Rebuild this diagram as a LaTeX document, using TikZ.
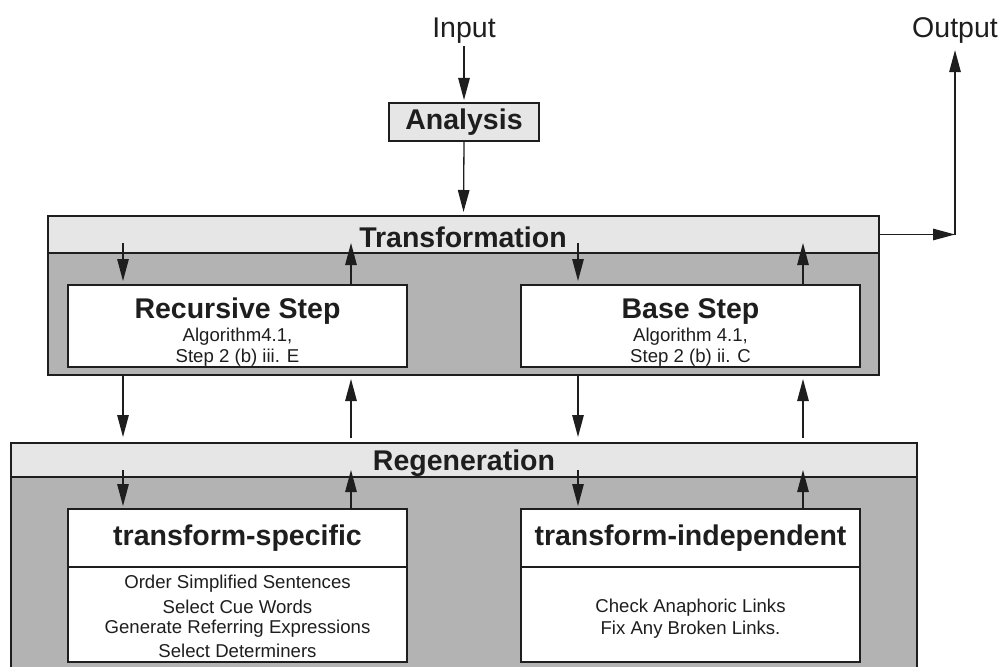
\documentclass[tikz,border=0pt]{standalone}
\usepackage{fontspec}
\setmainfont{Liberation Sans}
\usetikzlibrary{arrows.meta,calc}
\definecolor{ink}{HTML}{1E1E1E}
\definecolor{hdrfill}{HTML}{E6E6E6}
\definecolor{bodyfill}{HTML}{B3B3B3}
\tikzset{
  box/.style={draw=ink, line width=1.5pt, inner sep=0pt, outer sep=0pt},
  hdr/.style={box, fill=hdrfill},
  panel/.style={box, fill=bodyfill},
  card/.style={box, fill=white},
  big/.style={font=\fontsize{28.5}{34}\selectfont\bfseries, text=ink, anchor=base, inner sep=0pt},
  plain/.style={font=\fontsize{28.5}{34}\selectfont, text=ink, anchor=base, inner sep=0pt},
  small/.style={font=\fontsize{18.6}{22}\selectfont, text=ink, anchor=base, inner sep=0pt},
  arr/.style={draw=ink, line width=1.3pt, -{Triangle[length=22pt,width=11.5pt]}},
}
\begin{document}
\begin{tikzpicture}[x=1pt,y=-1pt]
\useasboundingbox (0,0) rectangle (1003,666);
\clip (0,0) rectangle (1003,666);

% columns of the vertical connectors
\coordinate (c1) at (123,0);
\coordinate (c2) at (351,0);
\coordinate (c3) at (578,0);
\coordinate (c4) at (803,0);

% input / analysis
\node[plain] (inp) at (464,38) {Input};
\node[hdr, minimum width=150pt, minimum height=38pt] (ana) at (464,122) {};
\node[big] (anat) at (464,129) {Analysis};

% transformation stage
\node[panel, minimum width=831pt, minimum height=159pt] (tr) at (463.5,295.5) {};
\node[hdr, minimum width=831pt, minimum height=37pt] (trh) at (463.5,234.5) {};
\node[big] (trt) at (463,247) {Transformation};

\node[card, minimum width=339pt, minimum height=82pt] (rec) at (237.5,326) {};
\node[big] (rect) at (237.5,318) {Recursive Step};
\node[small] (rec1) at (237.5,341) {Algorithm4.1,};
\node[small] (rec2) at (237.5,362) {Step 2 (b) iii. E};

\node[card, minimum width=339pt, minimum height=82pt] (bas) at (690.5,326) {};
\node[big] (bast) at (690.5,318) {Base Step};
\node[small] (bas1) at (690.5,341) {Algorithm 4.1,};
\node[small] (bas2) at (690.5,362) {Step 2 (b) ii. C};

% output
\node[plain] (out) at (955,38) {Output};
\coordinate (oc) at (955,234.5);

% regeneration stage
\node[panel, minimum width=906pt, minimum height=260pt] (rg) at (464,573) {};
\node[hdr, minimum width=906pt, minimum height=34pt] (rgh) at (464,460) {};
\node[big] (rgt) at (464,470) {Regeneration};

\node[card, minimum width=339pt, minimum height=58pt] (tsh) at (237.5,538) {};
\node[card, minimum width=339pt, minimum height=95pt] (tsb) at (237.5,614.5) {};
\node[big] (tst) at (237.5,545) {transform-specific};
\node[small] (ts1) at (237.5,588) {Order Simplified Sentences};
\node[small] (ts2) at (237.5,613) {Select Cue Words};
\node[small] (ts3) at (237.5,633) {Generate Referring Expressions};
\node[small] (ts4) at (237.5,657) {Select Determiners};

\node[card, minimum width=339pt, minimum height=58pt] (tih) at (690.5,538) {};
\node[card, minimum width=339pt, minimum height=95pt] (tib) at (690.5,614.5) {};
\node[big] (tit) at (690.5,545) {transform-independent};
\node[small] (ti1) at (690.5,612) {Check Anaphoric Links};
\node[small] (ti2) at (690.5,634) {Fix Any Broken Links.};

% main flow
\draw[arr, shorten <=2pt, shorten >=3pt] (inp.south) -- (ana.north);
\draw[arr, shorten >=4pt] (ana.south) -- (trh.north);
\draw[arr] (trh.east) -- (oc);
\draw[arr] (oc) -- ($(out.south)+(0,6)$);

% transformation <-> steps
\draw[arr] ($(c1|-trh.south)+(0,-10)$) -- ($(c1|-rec.north)+(0,-4)$);
\draw[arr] (c2|-rec.north) -- ($(c2|-trh.south)+(0,-10)$);
\draw[arr] ($(c3|-trh.south)+(0,-10)$) -- ($(c3|-bas.north)+(0,-4)$);
\draw[arr] (c4|-bas.north) -- ($(c4|-trh.south)+(0,-10)$);

% transformation <-> regeneration
\draw[arr] (c1|-tr.south) -- ($(c1|-rg.north)+(0,-6)$);
\draw[arr] ($(c2|-rg.north)+(0,-5)$) -- ($(c2|-tr.south)+(0,4)$);
\draw[arr] (c3|-tr.south) -- ($(c3|-rg.north)+(0,-6)$);
\draw[arr] ($(c4|-rg.north)+(0,-5)$) -- ($(c4|-tr.south)+(0,4)$);

% regeneration <-> sub-tasks
\draw[arr] ($(c1|-rgh.south)+(0,-7)$) -- ($(c1|-tsh.north)+(0,-3)$);
\draw[arr] (c2|-tsh.north) -- ($(c2|-rgh.south)+(0,-7)$);
\draw[arr] ($(c3|-rgh.south)+(0,-7)$) -- ($(c3|-tih.north)+(0,-3)$);
\draw[arr] (c4|-tih.north) -- ($(c4|-rgh.south)+(0,-7)$);
\end{tikzpicture}
\end{document}
